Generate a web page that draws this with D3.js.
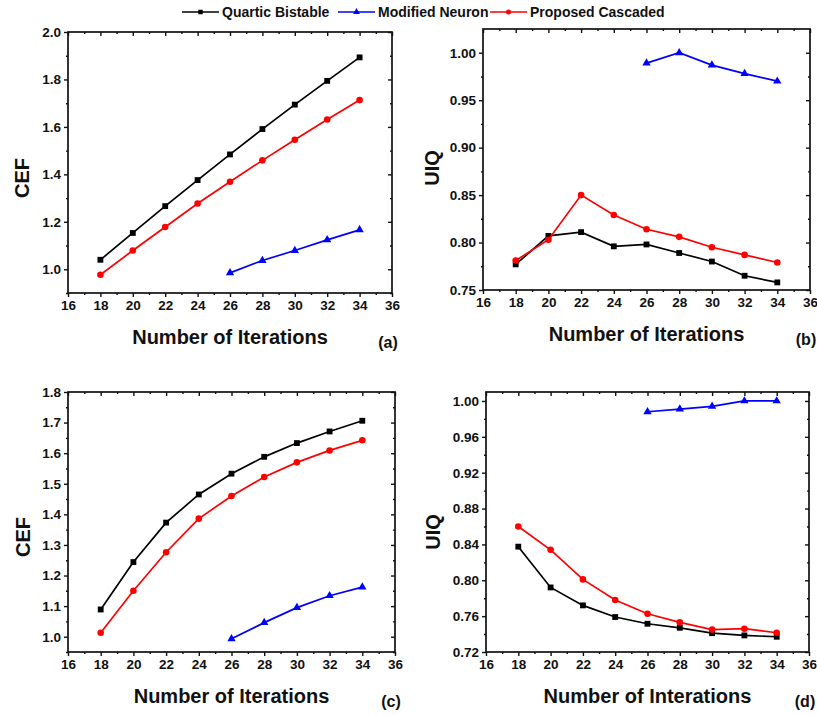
<!DOCTYPE html>
<html>
<head>
<meta charset="utf-8">
<script src="https://cdn.jsdelivr.net/npm/d3@7"></script>
<style>
  body { margin: 0; background: #fff; }
  text { font-family: Arial, 'Liberation Sans', sans-serif; font-weight: bold; fill: #111; }
</style>
</head>
<body>
<svg id="chart" width="817" height="715"></svg>
<script>
// data
const iterations = [18, 20, 22, 24, 26, 28, 30, 32, 34];
const neuronIterations = [26, 28, 30, 32, 34];

const cefA_quartic = [1.04, 1.153, 1.266, 1.376, 1.484, 1.591, 1.694, 1.794, 1.893];
const cefA_cascaded = [0.977, 1.079, 1.178, 1.277, 1.369, 1.459, 1.546, 1.631, 1.713];
const cefA_neuron = [0.985, 1.037, 1.079, 1.124, 1.166];

const uiqB_quartic = [0.777, 0.807, 0.811, 0.796, 0.798, 0.789, 0.780, 0.765, 0.758];
const uiqB_cascaded = [0.781, 0.803, 0.850, 0.829, 0.814, 0.806, 0.795, 0.787, 0.779];
const uiqB_neuron = [0.989, 1.000, 0.987, 0.978, 0.970];

const cefC_quartic = [1.089, 1.244, 1.373, 1.465, 1.533, 1.588, 1.633, 1.671, 1.706];
const cefC_cascaded = [1.013, 1.150, 1.276, 1.386, 1.460, 1.522, 1.570, 1.609, 1.642];
const cefC_neuron = [0.993, 1.046, 1.095, 1.134, 1.162];

const uiqD_quartic = [0.8375, 0.792, 0.772, 0.759, 0.7515, 0.747, 0.741, 0.7385, 0.737];
const uiqD_cascaded = [0.860, 0.834, 0.801, 0.778, 0.7626, 0.753, 0.745, 0.746, 0.7415];
const uiqD_neuron = [0.988, 0.991, 0.994, 1.000, 1.000];

const xTicks = [16, 18, 20, 22, 24, 26, 28, 30, 32, 34, 36];
const yTicksA = [1.0, 1.2, 1.4, 1.6, 1.8, 2.0];
const yTicksB = [0.75, 0.80, 0.85, 0.90, 0.95, 1.00];
const yTicksC = [1.0, 1.1, 1.2, 1.3, 1.4, 1.5, 1.6, 1.7, 1.8];
const yTicksD = [0.72, 0.76, 0.80, 0.84, 0.88, 0.92, 0.96, 1.00];

const seriesNames = ['Quartic Bistable', 'Modified Neuron', 'Proposed Cascaded'];
const seriesColors = ['#000000', '#0000ff', '#ff0000'];
const seriesShapes = [d3.symbolSquare, d3.symbolTriangle, d3.symbolCircle];

const panels = [
  {tag: '(a)', ylabel: 'CEF', xlabel: 'Number of Iterations', box: [68, 32, 392, 293],
   ydom: [0.9, 2.0], yticks: yTicksA, fmt: '.1f', ylabelPos: [22, 178],
   series: [cefA_quartic, cefA_neuron, cefA_cascaded]},
  {tag: '(b)', ylabel: 'UIQ', xlabel: 'Number of Iterations', box: [483, 29, 810, 290],
   ydom: [0.75, 1.025], yticks: yTicksB, fmt: '.2f', ylabelPos: [432, 168],
   series: [uiqB_quartic, uiqB_neuron, uiqB_cascaded]},
  {tag: '(c)', ylabel: 'CEF', xlabel: 'Number of Iterations', box: [68, 392, 395, 652],
   ydom: [0.95, 1.8], yticks: yTicksC, fmt: '.1f', ylabelPos: [23, 537],
   series: [cefC_quartic, cefC_neuron, cefC_cascaded]},
  {tag: '(d)', ylabel: 'UIQ', xlabel: 'Number of Interations', box: [486, 392, 809, 652],
   ydom: [0.72, 1.01], yticks: yTicksD, fmt: '.2f', ylabelPos: [433, 532],
   series: [uiqD_quartic, uiqD_neuron, uiqD_cascaded]}
];

const svg = d3.select('#chart');

function minorBetween(ticks) {
  const out = [];
  for (let i = 0; i < ticks.length - 1; i++) out.push((ticks[i] + ticks[i + 1]) / 2);
  return out;
}

panels.forEach((p) => {
  const [x0, y0, x1, y1] = p.box;
  const x = d3.scaleLinear().domain([16, 36]).range([x0, x1]);
  const y = d3.scaleLinear().domain(p.ydom).range([y1, y0]);
  const g = svg.append('g');

  const xMinor = minorBetween(xTicks);
  const step = p.yticks[1] - p.yticks[0];
  const yMinor = minorBetween([p.yticks[0] - step].concat(p.yticks))
    .filter(v => v >= p.ydom[0] && v <= p.ydom[1]);

  // bottom axis (labels)
  g.append('g').attr('transform', `translate(0,${y1})`)
    .call(d3.axisBottom(x).tickValues(xTicks).tickSize(4).tickPadding(3).tickFormat(d3.format('d')));
  g.append('g').attr('transform', `translate(0,${y1})`)
    .call(d3.axisBottom(x).tickValues(xMinor).tickSize(2).tickFormat(''));
  // top axis, ticks inward
  g.append('g').attr('transform', `translate(0,${y0})`)
    .call(d3.axisBottom(x).tickValues(xTicks).tickSize(4).tickFormat(''));
  g.append('g').attr('transform', `translate(0,${y0})`)
    .call(d3.axisBottom(x).tickValues(xMinor).tickSize(2).tickFormat(''));
  // left axis (labels)
  g.append('g').attr('transform', `translate(${x0},0)`)
    .call(d3.axisLeft(y).tickValues(p.yticks).tickSize(4).tickPadding(3).tickFormat(d3.format(p.fmt)));
  g.append('g').attr('transform', `translate(${x0},0)`)
    .call(d3.axisLeft(y).tickValues(yMinor).tickSize(2).tickFormat(''));
  // right axis, ticks inward
  g.append('g').attr('transform', `translate(${x1},0)`)
    .call(d3.axisLeft(y).tickValues(p.yticks).tickSize(4).tickFormat(''));
  g.append('g').attr('transform', `translate(${x1},0)`)
    .call(d3.axisLeft(y).tickValues(yMinor).tickSize(2).tickFormat(''));

  g.selectAll('.domain').remove();
  g.selectAll('.tick line').attr('stroke', '#111').attr('stroke-width', 1.4);
  g.selectAll('.tick text').style('font-size', '13.5px').style('font-family', "Arial, 'Liberation Sans', sans-serif")
    .style('font-weight', 'bold').attr('fill', '#111');

  g.append('rect')
    .attr('x', x0).attr('y', y0).attr('width', x1 - x0).attr('height', y1 - y0)
    .attr('fill', 'none').attr('stroke', '#111').attr('stroke-width', 1.7);

  // series
  p.series.forEach((vals, si) => {
    const xs = si === 1 ? neuronIterations : iterations;
    const pts = vals.map((v, i) => [xs[i], v]);
    g.append('path')
      .datum(pts)
      .attr('fill', 'none')
      .attr('stroke', seriesColors[si])
      .attr('stroke-width', 1.7)
      .attr('d', d3.line().x(d => x(d[0])).y(d => y(d[1])));
    g.selectAll(null)
      .data(pts)
      .enter()
      .append('path')
      .attr('transform', d => `translate(${x(d[0])},${y(d[1])})`)
      .attr('d', d3.symbol().type(seriesShapes[si]).size(si === 1 ? 30 : 34))
      .attr('fill', seriesColors[si]);
  });

  g.append('text')
    .attr('transform', `translate(${p.ylabelPos[0]},${p.ylabelPos[1]}) rotate(-90)`)
    .attr('text-anchor', 'middle')
    .attr('dominant-baseline', 'central')
    .style('font-size', '20px')
    .text(p.ylabel);

  g.append('text')
    .attr('x', (x0 + x1) / 2).attr('y', y1 + 51)
    .attr('text-anchor', 'middle')
    .style('font-size', '20px')
    .text(p.xlabel);

  g.append('text')
    .attr('x', x1 - 4).attr('y', y1 + 55)
    .attr('text-anchor', 'middle')
    .style('font-size', '16px')
    .text(p.tag);
});

// legend
const legendX = [182, 338, 490];
const legend = svg.append('g').attr('transform', 'translate(0,12)');
seriesNames.forEach((name, si) => {
  const lx = legendX[si];
  legend.append('line')
    .attr('x1', lx).attr('x2', lx + 37).attr('y1', 0).attr('y2', 0)
    .attr('stroke', seriesColors[si]).attr('stroke-width', 1.6);
  legend.append('path')
    .attr('transform', `translate(${lx + 18.5},0)`)
    .attr('d', d3.symbol().type(seriesShapes[si]).size(20))
    .attr('fill', seriesColors[si]);
  legend.append('text')
    .attr('x', lx + 40).attr('y', 5)
    .style('font-size', '14px')
    .text(name);
});
</script>
</body>
</html>
